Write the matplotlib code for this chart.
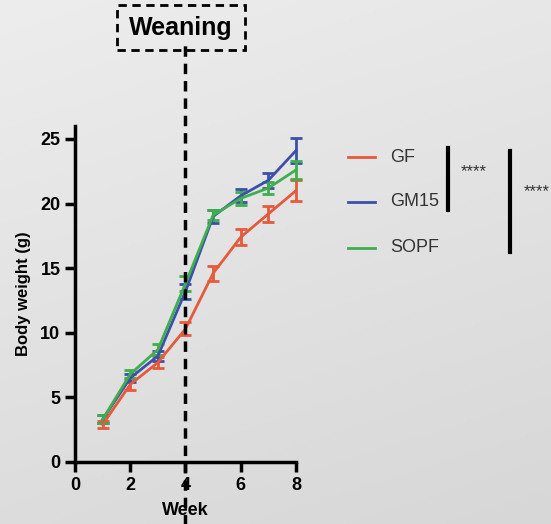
import numpy as np
import matplotlib
matplotlib.use("Agg")
import matplotlib.pyplot as plt
from matplotlib.patches import Rectangle
from matplotlib.colors import LinearSegmentedColormap

plt.rcParams["font.family"] = ["Liberation Sans", "DejaVu Sans"]

# ---------------------------------------------------------------- data
weeks = [1, 2, 3, 4, 5, 6, 7, 8]
gf_mean = [2.9, 6.0, 7.7, 10.3, 14.6, 17.4, 19.2, 21.0]
gf_err = [0.3, 0.4, 0.4, 0.5, 0.6, 0.6, 0.6, 0.8]
gm15_mean = [3.3, 6.5, 8.2, 13.2, 19.0, 20.6, 21.8, 24.1]
gm15_err = [0.3, 0.3, 0.4, 0.6, 0.5, 0.5, 0.6, 1.0]
sopf_mean = [3.3, 6.8, 8.7, 13.8, 19.1, 20.4, 21.2, 22.6]
sopf_err = [0.3, 0.3, 0.4, 0.6, 0.4, 0.5, 0.5, 0.7]

series = [
    ("GF", gf_mean, gf_err, "#e8583a"),
    ("GM15", gm15_mean, gm15_err, "#3d4fae"),
    ("SOPF", sopf_mean, sopf_err, "#3fae4c"),
]
weaning_week = 4

# ---------------------------------------------------------------- plot
W, H = 551, 524
fig = plt.figure(figsize=(W / 100, H / 100), dpi=100)

# soft grey backdrop, lighter at the top
bg = fig.add_axes([0, 0, 1, 1], zorder=-10)
yy, xx = np.mgrid[0:1:200j, 0:1:200j]
shade = 0.75 * yy + 0.25 * xx
bg_cmap = LinearSegmentedColormap.from_list("bg", ["#ededed", "#d7d7d7"])
bg.imshow(shade, cmap=bg_cmap, aspect="auto", extent=(0, 1, 0, 1),
          origin="upper")
bg.axis("off")

ax = fig.add_axes([75 / W, 1 - 462 / H, 221 / W, 336 / H])
ax.set_facecolor("none")

for name, m, e, c in series:
    eb = ax.errorbar(weeks, m, yerr=e, color=c, lw=2.0, elinewidth=2.0,
                     capsize=4, capthick=2.0, zorder=3)
    for art in eb.lines[1] + eb.lines[2] + (eb.lines[0],):
        art.set_clip_on(False)

ax.set_xlim(0, 8)
ax.set_ylim(0, 26)
ax.set_xticks([0, 2, 4, 6, 8])
ax.set_yticks([0, 5, 10, 15, 20, 25])
for s in ("top", "right"):
    ax.spines[s].set_visible(False)
for s in ("left", "bottom"):
    ax.spines[s].set_linewidth(2.5)
ax.tick_params(width=2.5, length=7, labelsize=13, direction="out")
for lab in ax.get_xticklabels() + ax.get_yticklabels():
    lab.set_fontweight("bold")
ax.set_xlabel("Week", fontsize=13, fontweight="bold", labelpad=6)
ax.set_ylabel("Body weight (g)", fontsize=12, fontweight="bold", labelpad=7)

# weaning marker
ax.axvline(weaning_week, ymin=-0.19, ymax=1.24, clip_on=False, color="black",
           lw=2.5, ls=(0, (3, 2)), zorder=4)
fig.text(181 / W, 1 - 28 / H, "Weaning", ha="center", va="center",
         fontsize=18, fontweight="bold")
fig.patches.append(Rectangle((117 / W, 1 - 50 / H), 128 / W, 45 / H,
                             transform=fig.transFigure, fill=False,
                             ec="black", lw=2.0, ls=(0, (3, 2))))

# legend
leg_y = [157, 202, 248]
for (name, m, e, c), y in zip(series, leg_y):
    fig.add_artist(plt.Line2D([348 / W, 375 / W], [1 - y / H, 1 - y / H],
                              color=c, lw=2.0, transform=fig.transFigure))
    fig.text(390 / W, 1 - y / H, name, ha="left", va="center",
             fontsize=13, color="#333333")

# significance brackets
fig.add_artist(plt.Line2D([448 / W, 448 / W], [1 - 148 / H, 1 - 210 / H],
                          color="black", lw=3, transform=fig.transFigure))
fig.text(461 / W, 1 - 172 / H, "****", ha="left", va="center", fontsize=12,
         color="#333333")
fig.add_artist(plt.Line2D([510 / W, 510 / W], [1 - 151 / H, 1 - 252 / H],
                          color="black", lw=3, transform=fig.transFigure))
fig.text(524 / W, 1 - 192 / H, "****", ha="left", va="center", fontsize=12,
         color="#333333")

fig.savefig("out.png", dpi=100)
